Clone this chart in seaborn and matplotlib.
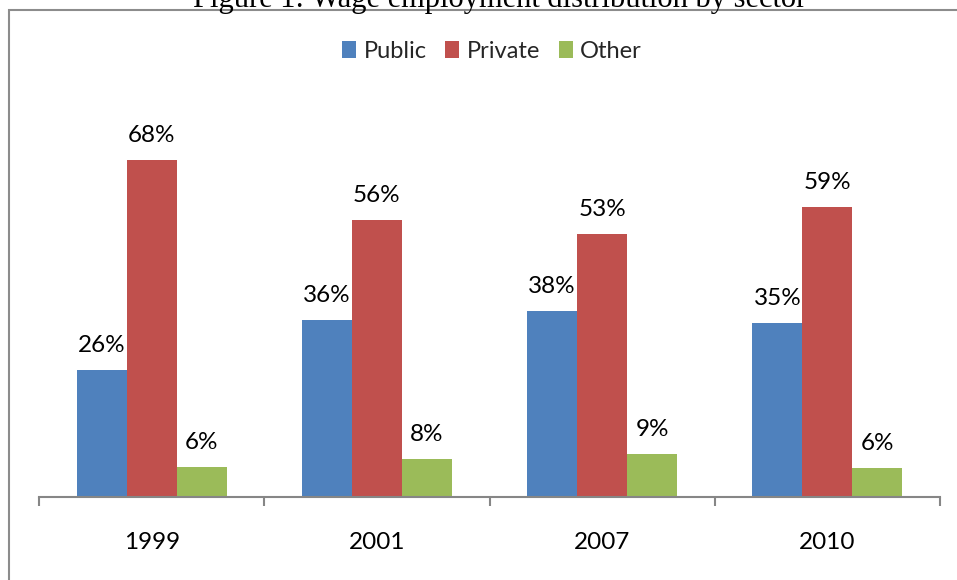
import matplotlib
matplotlib.use("Agg")
import matplotlib.pyplot as plt
import seaborn as sns
import pandas as pd
from matplotlib.patches import Rectangle, Patch

years = ["1999", "2001", "2007", "2010"]
sectors = ["Public", "Private", "Other"]
public = [25.6, 35.7, 37.6, 35.1]
private = [68.0, 55.9, 53.1, 58.6]
other = [6.0, 7.6, 8.7, 5.8]
colors = ["#4F81BD", "#C0504D", "#9BBB59"]

rows = []
for s, vals in zip(sectors, [public, private, other]):
    for y, v in zip(years, vals):
        rows.append({"Year": y, "Sector": s, "Share": v})
df = pd.DataFrame(rows)

sns.set_theme(style="white")
plt.rcParams["font.family"] = ["Lato", "DejaVu Sans"]

fig = plt.figure(figsize=(9.57, 5.8), dpi=100)
ax = fig.add_axes([39/957, (580-497)/580, 901/957, 397/580])

sns.barplot(data=df, x="Year", y="Share", hue="Sector", order=years,
            hue_order=sectors, palette=colors, width=0.665, ax=ax,
            saturation=1, legend=False, errorbar=None, linewidth=0)

for c in ax.containers:
    ax.bar_label(c, fmt="%.0f%%", padding=10, fontsize=17.5, color="#000000")

ax.set_xlim(-0.5, 3.5)
ax.set_ylim(0, 80.1)
for s in ["top", "right", "left"]:
    ax.spines[s].set_visible(False)
ax.spines["bottom"].set_color("#868686")
ax.spines["bottom"].set_linewidth(1.5)
ax.set_yticks([])
ax.set_xlabel("")
ax.set_ylabel("")
ax.set_xticks(range(4))
ax.set_xticklabels(years)
ax.tick_params(axis="x", which="major", length=0, pad=25, labelsize=17.5, labelcolor="#000000")
ax.set_xticks([-0.5, 0.5, 1.5, 2.5, 3.5], minor=True)
ax.tick_params(axis="x", which="minor", length=6.5, width=1.5, color="#868686", direction="out", bottom=True)

handles = [Patch(facecolor=c, edgecolor="none") for c in colors]
fig.legend(handles, sectors, loc="center", bbox_to_anchor=(492/957, 1-51/580),
           ncol=3, frameon=False, fontsize=17, handlelength=0.6, handleheight=0.75,
           handletextpad=0.3, columnspacing=0.8)

fig.patches.append(Rectangle((9/957, -0.05), 1.0, 1 - 10/580 + 0.05, transform=fig.transFigure,
                             fill=False, edgecolor="#8c8c8c", linewidth=1.5))
fig.text(500/957, 1 - 7/580, "Figure 1: Wage employment distribution by sector",
         ha="center", va="baseline", fontsize=22, family="Liberation Serif", color="#000000")

fig.savefig("out.png", dpi=100)
